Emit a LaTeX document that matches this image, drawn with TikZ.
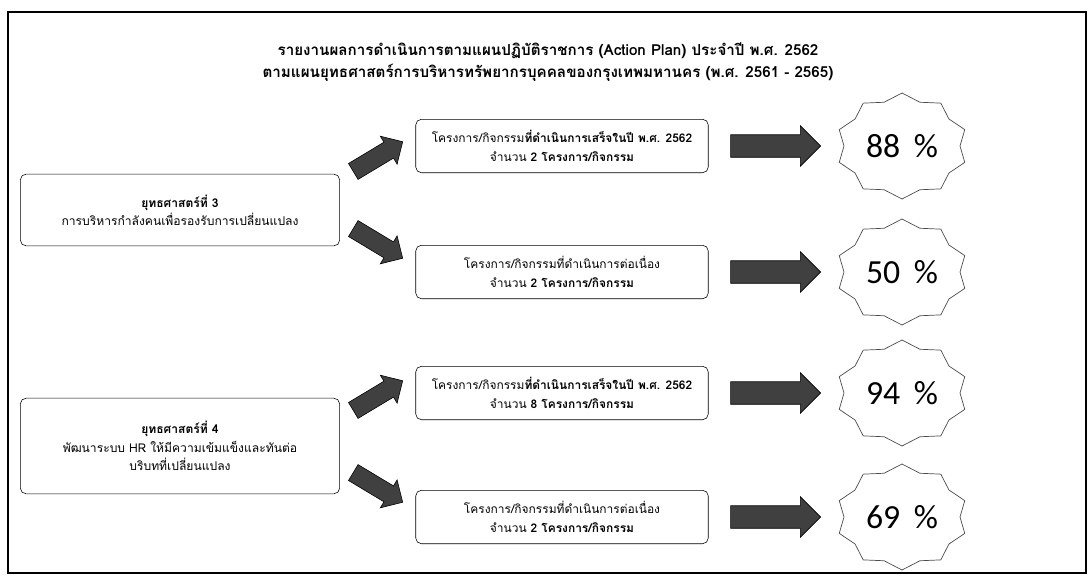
\documentclass[tikz,border=0pt]{standalone}
\usepackage{fontspec}
\setmainfont[Script=Thai]{Loma}
\newfontfamily\pctfont{Carlito}
\usetikzlibrary{shapes.arrows}

\begin{document}
\begin{tikzpicture}[x=0.025cm,y=-0.025cm,
	strat/.style={draw, rounded corners=4pt, align=center, minimum width=227pt, font=\fontsize{8.6}{13}\selectfont},
	proj/.style={draw, rounded corners=4pt, align=center, minimum width=208pt, minimum height=38pt, font=\fontsize{8.5}{13}\selectfont},
	slant/.style={single arrow, draw, fill=black!75, inner xsep=0pt, inner ysep=6.4pt, minimum height=41pt, single arrow head extend=5pt},
	fat/.style={single arrow, draw, fill=black!75, inner xsep=0pt, inner ysep=7.8pt, minimum height=64pt, single arrow head extend=6.4pt},
	burst/.style={draw=black!70, line width=0.5pt},
	pct/.style={font=\pctfont\fontsize{24}{26}\selectfont}]

	\useasboundingbox (0,0) rectangle (1091,579);
	\draw[line width=0.8pt] (8,12) rectangle (1086,573);

	% title
	\node[align=center, font=\bfseries\fontsize{10.8}{15.5}\selectfont] (title) at (548,62)
		{รายงานผลการดำเนินการตามแผนปฏิบัติราชการ (Action Plan) ประจำปี พ.ศ. 2562\\
		 ตามแผนยุทธศาสตร์การบริหารทรัพยากรบุคคลของกรุงเทพมหานคร (พ.ศ. 2561 - 2565)};

	% strategies
	\node[strat, minimum height=51pt] (s3) at (180,210)
		{\textbf{ยุทธศาสตร์ที่ 3}\\ การบริหารกำลังคนเพื่อรองรับการเปลี่ยนแปลง};
	\node[strat, minimum height=68pt] (s4) at (180,446)
		{\textbf{ยุทธศาสตร์ที่ 4}\\ พัฒนาระบบ HR ให้มีความเข้มแข็งและทันต่อ\\ บริบทที่เปลี่ยนแปลง};

	% projects
	\node[proj] (p1) at (562,146)
		{โครงการ/กิจกรรม\textbf{ที่ดำเนินการเสร็จในปี พ.ศ. 2562}\\ จำนวน \textbf{2 โครงการ/กิจกรรม}};
	\node[proj] (p2) at (562,272)
		{โครงการ/กิจกรรมที่ดำเนินการต่อเนื่อง\\ จำนวน \textbf{2 โครงการ/กิจกรรม}};
	\node[proj] (p3) at (562,393)
		{โครงการ/กิจกรรม\textbf{ที่ดำเนินการเสร็จในปี พ.ศ. 2562}\\ จำนวน \textbf{8 โครงการ/กิจกรรม}};
	\node[proj] (p4) at (562,517)
		{โครงการ/กิจกรรมที่ดำเนินการต่อเนื่อง\\ จำนวน \textbf{2 โครงการ/กิจกรรม}};

	% slanted arrows
	\node[slant, rotate=31] (u3) at (374,159) {};
	\node[slant, rotate=-31] (d3) at (374,241) {};
	\node[slant, rotate=31] (u4) at (374,398) {};
	\node[slant, rotate=-31] (d4) at (374,485) {};

	% results
	\foreach \y/\v [count=\i] in {146/88, 272/50, 393/94, 517/69} {
		\node[fat] (b\i) at (770,\y) {};
		\draw[burst] (902,\y) +(90:66 and 53) \foreach \k in {0,...,9} { -- +(108+36*\k:58 and 46) -- +(126+36*\k:66 and 53)} -- cycle;
		\node[pct] (r\i) at (902,\y) {\v\hspace{0.4em}\%};
	}
\end{tikzpicture}
\end{document}
